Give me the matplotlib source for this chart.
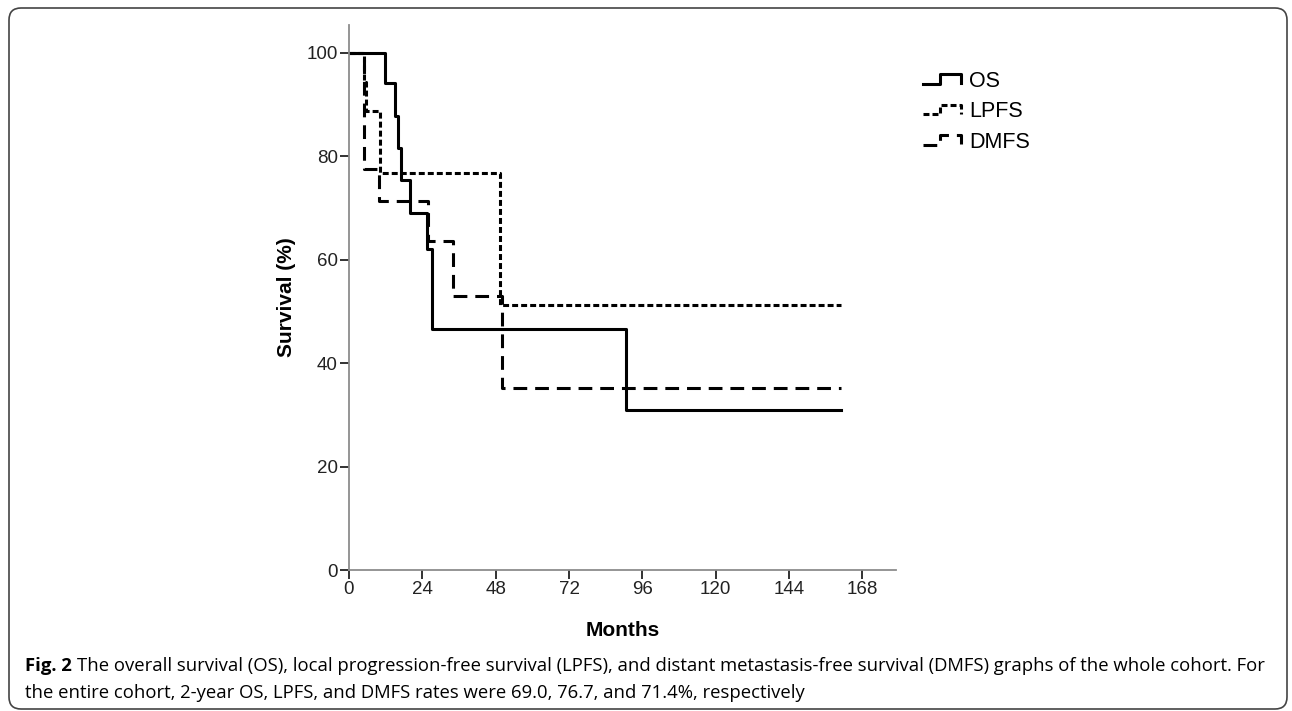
import matplotlib
matplotlib.use("Agg")
import matplotlib.pyplot as plt
from matplotlib.lines import Line2D
from matplotlib.legend_handler import HandlerLine2D
from matplotlib.patches import FancyBboxPatch
from matplotlib.transforms import IdentityTransform

# Kaplan-Meier steps (months, survival %)
os_months = [0, 11.9, 14.9, 16.0, 17.1, 20.0, 25.6, 27.2, 90.5, 161]
os_surv = [100, 94.2, 87.8, 81.7, 75.4, 69.0, 62.1, 46.6, 31.0, 31.0]

lpfs_months = [0, 5.0, 5.6, 10.0, 49.5, 161]
lpfs_surv = [100, 94.4, 88.8, 76.7, 51.2, 51.2]

dmfs_months = [0, 4.8, 9.8, 25.8, 34.0, 50.2, 161]
dmfs_surv = [100, 77.6, 71.4, 63.6, 52.9, 35.2, 35.2]

x_ticks = [0, 24, 48, 72, 96, 120, 144, 168]
y_ticks = [0, 20, 40, 60, 80, 100]

caption_bold = "Fig. 2"
caption_1 = ("The overall survival (OS), local progression-free survival (LPFS), and distant "
             "metastasis-free survival (DMFS) graphs of the whole cohort. For")
caption_2 = "the entire cohort, 2-year OS, LPFS, and DMFS rates were 69.0, 76.7, and 71.4%, respectively"

tick_font = ["Liberation Sans Narrow", "Liberation Sans"]
label_font = ["Liberation Sans", "DejaVu Sans"]
cap_font = ["Open Sans", "DejaVu Sans"]


class StepHandler(HandlerLine2D):
    # legend key drawn as a little survival step, like SPSS does
    def create_artists(self, legend, orig_handle, xdescent, ydescent, width, height, fontsize, trans):
        x0, y0 = -xdescent, -ydescent
        xs = [x0, x0 + 0.45 * width, x0 + 0.45 * width, x0 + width, x0 + width]
        ys = [y0 + 0.2 * height, y0 + 0.2 * height, y0 + 0.85 * height, y0 + 0.85 * height, y0 + 0.25 * height]
        line = Line2D(xs, ys)
        self.update_prop(line, orig_handle, legend)
        line.set_transform(trans)
        return [line]


fig = plt.figure(figsize=(12.92, 7.11), dpi=100, facecolor="white")
ax = fig.add_axes([0.2701, 0.1983, 0.4234, 0.7665])

lw = 2.2
l_os, = ax.step(os_months, os_surv, where="post", color="black", lw=lw, label="OS")
l_lpfs, = ax.step(lpfs_months, lpfs_surv, where="post", color="black", lw=lw,
                  dashes=(1.95, 1.0), label="LPFS")
l_dmfs, = ax.step(dmfs_months, dmfs_surv, where="post", color="black", lw=lw,
                  dashes=(4.5, 2.6), label="DMFS")

ax.set_xlim(0, 179)
ax.set_ylim(0, 105.4)
ax.set_xticks(x_ticks)
ax.set_yticks(y_ticks)
for s in ["top", "right"]:
    ax.spines[s].set_visible(False)
for s in ["left", "bottom"]:
    ax.spines[s].set_color("#8c8c8c")
    ax.spines[s].set_linewidth(1.3)
ax.tick_params(axis="both", direction="out", length=6.5, width=1.3, color="#222222", pad=1.5)
for t in ax.get_xticklabels() + ax.get_yticklabels():
    t.set_fontfamily(tick_font)
    t.set_fontsize(13.5)
    t.set_color("#222222")

ax.set_xlabel("Months", fontfamily=label_font, fontweight="bold", fontsize=15)
ax.set_ylabel("Survival (%)", fontfamily=label_font, fontweight="bold", fontsize=15)
ax.xaxis.set_label_coords(0.5, -0.094)
ax.yaxis.set_label_coords(-0.097, 0.5)

fig.legend(handles=[l_os, l_lpfs, l_dmfs], handler_map={Line2D: StepHandler()},
           loc="upper left", bbox_to_anchor=(923 / 1292, 1 - 71 / 711),
           frameon=False, borderpad=0, borderaxespad=0, handlelength=1.75,
           handletextpad=0.38, labelspacing=0.44, prop={"family": label_font, "size": 15.5})

# caption under the plot
bold = fig.text(25 / 1292, 1 - 675 / 711, caption_bold, fontfamily=cap_font, fontweight="bold",
                fontsize=13.3, va="bottom", ha="left")
fig.add_artist(matplotlib.text.Annotation(caption_1, xy=(1, 0), xycoords=bold, xytext=(4, 0),
                                          textcoords="offset points", va="bottom", ha="left",
                                          fontfamily=cap_font, fontsize=13.3))
fig.text(25 / 1292, 1 - 702 / 711, caption_2, fontfamily=cap_font, fontsize=13.3, va="bottom", ha="left")

# rounded frame round the whole figure
frame = FancyBboxPatch((9, 2), 1278, 701, boxstyle="round,pad=0,rounding_size=12",
                       transform=IdentityTransform(), fill=False, edgecolor="#444444", lw=1.2)
fig.add_artist(frame)

fig.savefig("out.png", dpi=100)
